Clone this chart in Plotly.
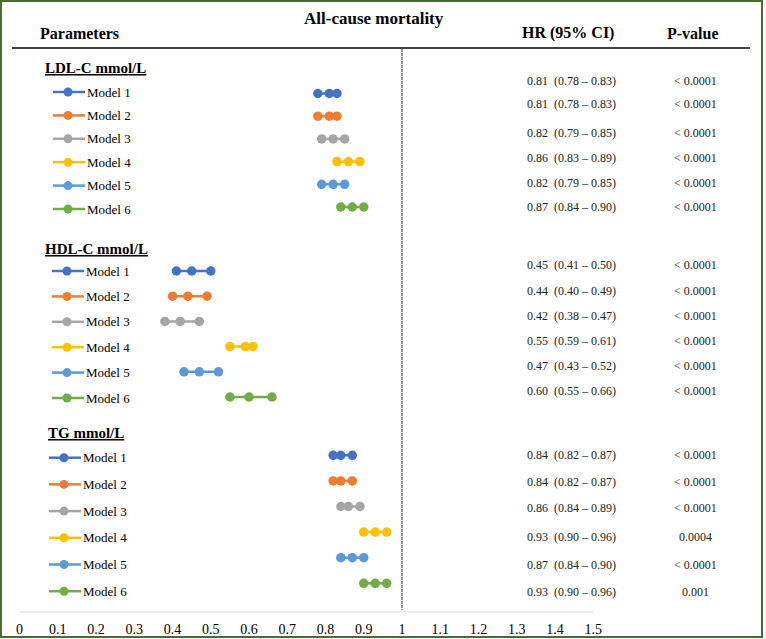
import plotly.graph_objects as go

# ---------------- data ----------------
groups = ["LDL-C mmol/L", "HDL-C mmol/L", "TG mmol/L"]
models = ["Model 1", "Model 2", "Model 3", "Model 4", "Model 5", "Model 6"]

ldl_hr = [0.81, 0.81, 0.82, 0.86, 0.82, 0.87]
ldl_lo = [0.78, 0.78, 0.79, 0.83, 0.79, 0.84]
ldl_hi = [0.83, 0.83, 0.85, 0.89, 0.85, 0.90]
ldl_p = ["< 0.0001"] * 6

hdl_hr = [0.45, 0.44, 0.42, 0.55, 0.47, 0.60]
hdl_lo = [0.41, 0.40, 0.38, 0.59, 0.43, 0.55]
hdl_hi = [0.50, 0.49, 0.47, 0.61, 0.52, 0.66]
hdl_p = ["< 0.0001"] * 6

tg_hr = [0.84, 0.84, 0.86, 0.93, 0.87, 0.93]
tg_lo = [0.82, 0.82, 0.84, 0.90, 0.84, 0.90]
tg_hi = [0.87, 0.87, 0.89, 0.96, 0.90, 0.96]
tg_p = ["< 0.0001", "< 0.0001", "< 0.0001", "0.0004", "< 0.0001", "0.001"]

tick_vals = [0, 0.1, 0.2, 0.3, 0.4, 0.5, 0.6, 0.7, 0.8, 0.9, 1, 1.1, 1.2, 1.3, 1.4, 1.5]
tick_labels = ["0", "0.1", "0.2", "0.3", "0.4", "0.5", "0.6", "0.7", "0.8", "0.9",
               "1", "1.1", "1.2", "1.3", "1.4", "1.5"]

title = "All-cause mortality"
col_headers = ["Parameters", "HR (95% CI)", "P-value"]

colors = ["#4472C4", "#ED7D31", "#A5A5A5", "#FFC000", "#5B9BD5", "#70AD47"]

# ---------------- layout geometry (pixels) ----------------
W, H = 766, 639
MB = 27
PH = H - MB
X0_PX, PX_UNIT = 19.6, 382.4
x_range = [-X0_PX / PX_UNIT, (W - X0_PX) / PX_UNIT]
FONT = "Liberation Serif"


def xp(px):
    return px / W


group_layout = [
    dict(head_y=68, head_x=45, sym_dx=0, dot_y0=93.5, dot_dy=22.7, lab_y0=92, lab_dy=23.4,
         hr_rows=[81, 104, 133, 158, 183, 207]),
    dict(head_y=249, head_x=45, sym_dx=-1, dot_y0=271, dot_dy=25.2, lab_y0=271, lab_dy=25.4,
         hr_rows=[265, 291, 316, 341, 366, 391]),
    dict(head_y=433, head_x=48, sym_dx=-4, dot_y0=455.3, dot_dy=25.6, lab_y0=457.7, lab_dy=26.7,
         hr_rows=[455, 482, 508, 537, 565, 592]),
]

data = [
    (ldl_hr, ldl_lo, ldl_hi, ldl_p),
    (hdl_hr, hdl_lo, hdl_hi, hdl_p),
    (tg_hr, tg_lo, tg_hi, tg_p),
]

fig = go.Figure()
annotations = []
shapes = []

# dot traces: one per model, across groups
for mi, m in enumerate(models):
    xs, ys = [], []
    for gi, (hr, lo, hi, p) in enumerate(data):
        g = group_layout[gi]
        y = g["dot_y0"] + mi * g["dot_dy"]
        xs += [lo[mi], hr[mi], hi[mi], None]
        ys += [y, y, y, None]
    fig.add_trace(go.Scatter(
        x=xs, y=ys, mode="lines+markers", name=m,
        line=dict(color=colors[mi], width=2.5),
        marker=dict(color=colors[mi], size=9.5),
        hoverinfo="skip", showlegend=False))

for gi, (hr, lo, hi, p) in enumerate(data):
    g = group_layout[gi]
    annotations.append(dict(
        x=xp(g["head_x"] - 2), y=g["head_y"], xref="paper", yref="y",
        text="<b><u>" + groups[gi] + "</u></b>", showarrow=False,
        xanchor="left", yanchor="middle",
        font=dict(family=FONT, size=15, color="#000")))
    for mi, m in enumerate(models):
        ly = g["lab_y0"] + mi * g["lab_dy"]
        sx = g["sym_dx"]
        shapes.append(dict(type="line", xref="paper", yref="y",
                           x0=xp(53 + sx), x1=xp(85 + sx), y0=ly, y1=ly,
                           line=dict(color=colors[mi], width=2.5)))
        shapes.append(dict(type="circle", xref="paper", yref="y",
                           x0=xp(68 + sx - 4.5), x1=xp(68 + sx + 4.5),
                           y0=ly - 4.5, y1=ly + 4.5,
                           fillcolor=colors[mi], line=dict(color=colors[mi], width=0)))
        annotations.append(dict(
            x=xp(85 + sx), y=ly, xref="paper", yref="y", text=m, showarrow=False,
            xanchor="left", yanchor="middle",
            font=dict(family=FONT, size=13, color="#000")))
        ry = g["hr_rows"][mi]
        annotations.append(dict(
            x=xp(525), y=ry, xref="paper", yref="y",
            text=f"{hr[mi]:.2f}  ({lo[mi]:.2f} \u2013 {hi[mi]:.2f})",
            showarrow=False, xanchor="left", yanchor="middle",
            font=dict(family=FONT, size=12, color="#222")))
        annotations.append(dict(
            x=xp(695), y=ry, xref="paper", yref="y", text=p[mi],
            showarrow=False, xanchor="center", yanchor="middle",
            font=dict(family=FONT, size=12, color="#222")))

# headers
annotations.append(dict(x=xp(374), y=18, xref="paper", yref="y", text="<b>" + title + "</b>",
                        showarrow=False, xanchor="center", yanchor="middle",
                        font=dict(family=FONT, size=17, color="#000")))
for txt, cx in zip(col_headers, [79, 568, 693]):
    annotations.append(dict(x=xp(cx), y=33, xref="paper", yref="y", text="<b>" + txt + "</b>",
                            showarrow=False, xanchor="center", yanchor="middle",
                            font=dict(family=FONT, size=16, color="#000")))

# header rule
shapes.append(dict(type="line", xref="paper", yref="y", x0=xp(12), x1=xp(750), y0=48, y1=48,
                   line=dict(color="#000", width=1.6)))
# reference line at HR = 1
shapes.append(dict(type="line", xref="x", yref="y", x0=1, x1=1, y0=49, y1=610,
                   line=dict(color="#767676", width=1.5, dash="3px,1px")))
# x-axis baseline 0..1.5
shapes.append(dict(type="line", xref="x", yref="paper", x0=tick_vals[0], x1=tick_vals[-1],
                   y0=0, y1=0, line=dict(color="#d9d9d9", width=1)))
# outer border
shapes.append(dict(type="rect", xref="paper", yref="paper",
                   x0=xp(1), x1=xp(762), y0=(PH - 637) / PH, y1=(PH - 1) / PH,
                   line=dict(color="#4a6b34", width=2), fillcolor="rgba(0,0,0,0)"))

fig.update_layout(
    width=W, height=H,
    margin=dict(l=0, r=0, t=0, b=MB, pad=0),
    paper_bgcolor="white", plot_bgcolor="white",
    showlegend=False,
    xaxis=dict(range=x_range, tickvals=tick_vals, ticktext=tick_labels,
               showgrid=False, zeroline=False, showline=False,
               ticks="outside", ticklen=4, tickcolor="rgba(0,0,0,0)",
               tickfont=dict(family=FONT, size=14, color="#000"), fixedrange=True),
    yaxis=dict(range=[PH, 0], visible=False, fixedrange=True),
    annotations=annotations, shapes=shapes,
)

fig.write_html("out.html", config={"displayModeBar": False},
               post_script="document.body.style.margin='0';document.body.style.overflow='hidden';")
